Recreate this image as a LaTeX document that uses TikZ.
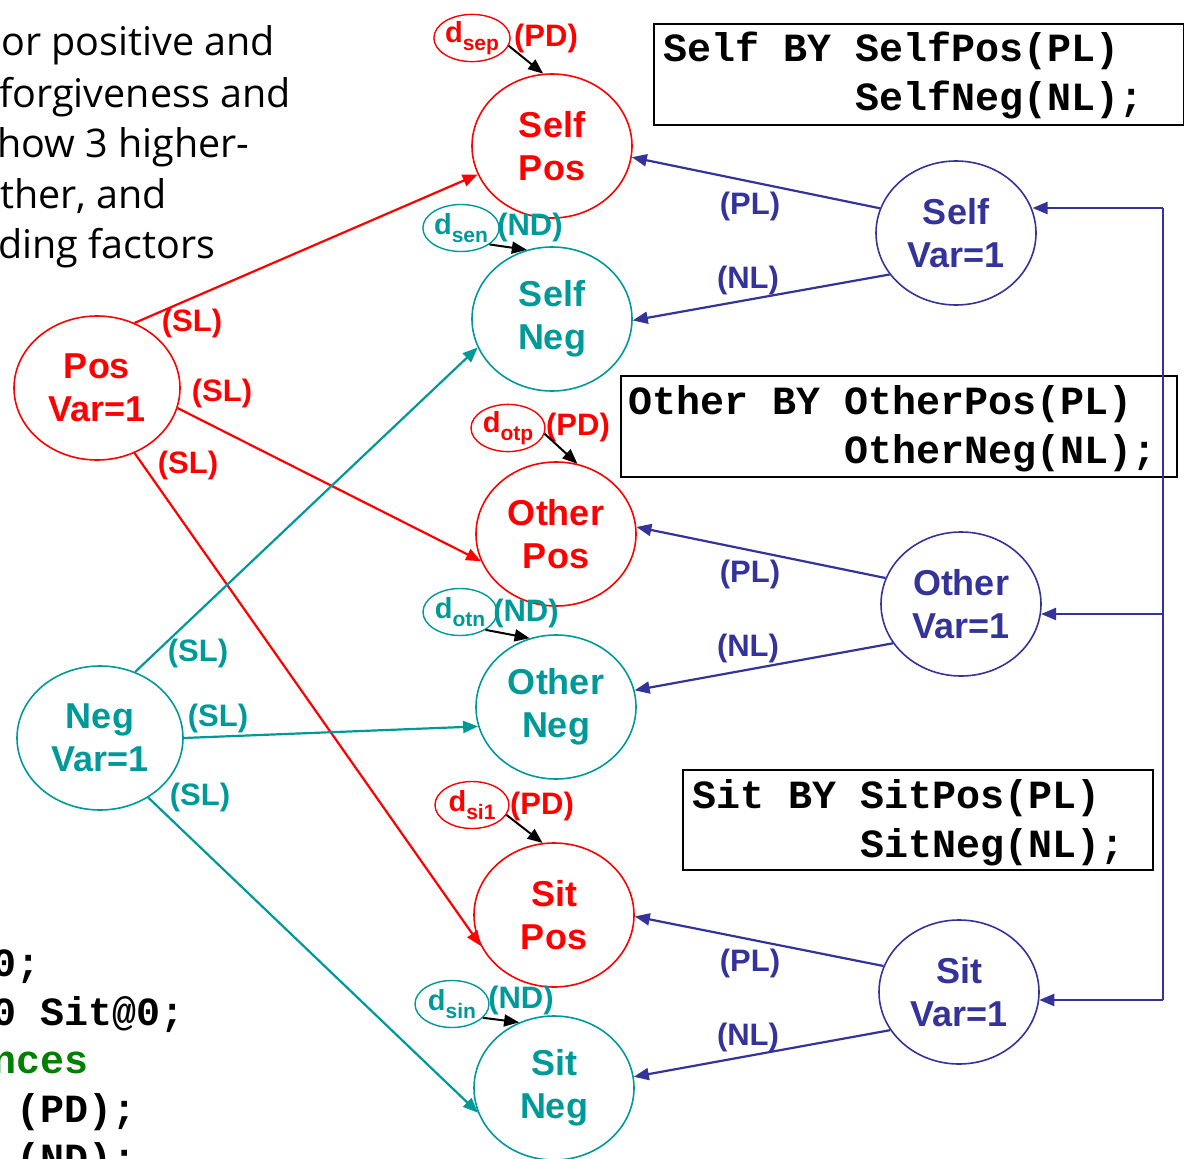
\documentclass[tikz,border=0pt]{standalone}
\usepackage{fontspec}
\setmainfont{Liberation Sans}
\newfontfamily\bodyfont{Open Sans}
\newfontfamily\codefont{Liberation Mono}
\usetikzlibrary{shapes.geometric,arrows.meta}
\definecolor{cred}{RGB}{255,0,0}
\definecolor{cteal}{RGB}{0,153,153}
\definecolor{cblue}{RGB}{51,51,153}
\definecolor{cgreen}{RGB}{0,128,0}
\begin{document}
\begin{tikzpicture}[x=1pt,y=-1pt,
  bignode/.style={ellipse, draw, line width=1.6pt, minimum width=160pt, minimum height=144pt, inner sep=0pt, align=center, font=\fontsize{36}{43}\selectfont\bfseries},
  varnode/.style={bignode, minimum width=166pt},
  dnode/.style={ellipse, draw, line width=1.4pt, minimum width=74pt, minimum height=47pt, inner sep=0pt, font=\fontsize{29}{34}\selectfont\bfseries},
  lab/.style={font=\fontsize{31}{36}\selectfont\bfseries, inner sep=0pt},
  conn/.style={line width=2.2pt, -{Triangle[length=15pt,width=12pt]}},
  darr/.style={line width=2pt, black, -{Triangle[length=15pt,width=12pt]}},
  intro/.style={font=\bodyfont\fontsize{39.5}{51}\selectfont, inner sep=0pt, anchor=base west},
  code/.style={font=\codefont\bfseries\fontsize{40}{49}\selectfont, inner sep=0pt, anchor=base west},
  codebox/.style={draw, line width=1.5pt, anchor=north west, inner sep=0pt}
]
\useasboundingbox (0,0) rectangle (1184,1159);
\clip (0,0) rectangle (1184,1159);
\fill[white] (0,0) rectangle (1184,1159);

% intro text (cut at left)
\node[intro] (t1) at (1,55) {or positive and};
\node[intro] (t2) at (-1,107) {forgiveness and};
\node[intro] (t3) at (-3,157) {how 3 higher-};
\node[intro] (t4) at (0,208) {ther, and};
\node[intro] (t5) at (-2,258) {ding factors};

% code text bottom left
\node[code] (c1) at (-8,976) {0;};
\node[code] (c2) at (-8,1025) {0 Sit@0;};
\node[code, text=cgreen] (c3) at (-8,1073) {nces};
\node[code] (c4) at (-8,1122) {\hphantom{0}(PD);};
\node[code] (c5) at (-8,1171) {\hphantom{0}(ND);};

% code boxes
\node[codebox, minimum width=530pt, minimum height=101pt] (selfbox) at (653,23) {};
\node[code] (sb1) at (663,61) {Self BY SelfPos(PL)};
\node[code] (sb2) at (663,110) {\hphantom{Self BY }SelfNeg(NL);};
\node[codebox, minimum width=556pt, minimum height=101pt] (otherbox) at (620,375) {};
\node[code] (ob1) at (628,414) {Other BY OtherPos(PL)};
\node[code] (ob2) at (628,463) {\hphantom{Other BY }OtherNeg(NL);};
\node[codebox, minimum width=470pt, minimum height=100pt] (sitbox) at (682,769) {};
\node[code] (tb1) at (692,808) {Sit BY SitPos(PL)};
\node[code] (tb2) at (692,857) {\hphantom{Sit BY }SitNeg(NL);};

% factor nodes
\node[bignode, cred] (selfpos) at (552,146) {Self\\Pos};
\node[bignode, cteal] (selfneg) at (552,319) {Self\\Neg};
\node[bignode, cred] (otherpos) at (556,534) {Other\\Pos};
\node[bignode, cteal] (otherneg) at (556,707) {Other\\Neg};
\node[bignode, cred] (sitpos) at (554,915) {Sit\\Pos};
\node[bignode, cteal] (sitneg) at (554,1088) {Sit\\Neg};

\node[varnode, cred] (posvar) at (97,388) {Pos\\Var=1};
\node[varnode, cteal] (negvar) at (100,738) {Neg\\Var=1};
\node[bignode, cblue] (selfvar) at (956,233) {Self\\Var=1};
\node[bignode, cblue] (othervar) at (961,604) {Other\\Var=1};
\node[bignode, cblue] (sitvar) at (959,992) {Sit\\Var=1};

% disturbances
\node[dnode, cred] (dsep) at (472,38) {d\raisebox{-8pt}{\fontsize{21}{21}\selectfont sep}};
\node[dnode, cteal] (dsen) at (461,228) {d\raisebox{-8pt}{\fontsize{21}{21}\selectfont sen}};
\node[dnode, cred] (dotp) at (508,428) {d\raisebox{-8pt}{\fontsize{21}{21}\selectfont otp}};
\node[dnode, cteal] (dotn) at (460,612) {d\raisebox{-8pt}{\fontsize{21}{21}\selectfont otn}};
\node[dnode, cred] (dsi1) at (472,805) {d\raisebox{-8pt}{\fontsize{21}{21}\selectfont si1}};
\node[dnode, cteal] (dsin) at (452,1004) {d\raisebox{-8pt}{\fontsize{21}{21}\selectfont sin}};

\node[lab, cred] (pd1) at (546,38) {(PD)};
\node[lab, cteal] (nd1) at (530,227) {(ND)};
\node[lab, cred] (pd2) at (578,427) {(PD)};
\node[lab, cteal] (nd2) at (526,613) {(ND)};
\node[lab, cred] (pd3) at (542,806) {(PD)};
\node[lab, cteal] (nd3) at (521,1000) {(ND)};

\draw[darr] (dsep.-12) -- (selfpos.97);
\draw[darr] (dsen.-30) -- (selfneg.110);
\draw[darr] (dotp.-9) -- (otherpos.73);
\draw[darr] (dotn.-35) -- (otherneg.111);
\draw[darr] (dsi1.-16) -- (sitpos.99);
\draw[darr] (dsin.-24) -- (sitneg.118);

% structural loadings
\draw[conn, cred] (posvar.60) -- (selfpos.201);
\draw[conn, cred] (posvar.-14) -- (otherpos.200);
\draw[conn, cred] (posvar.-60) -- (sitpos.203);
\draw[conn, cteal] (negvar.62) -- (selfneg.201);
\draw[conn, cteal] (negvar.0) -- (otherneg.194);
\draw[conn, cteal] (negvar.-51) -- (sitneg.198);

\node[lab, cred] (sl1) at (192,323) {(SL)};
\node[lab, cred] (sl2) at (222,393) {(SL)};
\node[lab, cred] (sl3) at (188,465) {(SL)};
\node[lab, cteal] (sl4) at (198,653) {(SL)};
\node[lab, cteal] (sl5) at (218,718) {(SL)};
\node[lab, cteal] (sl6) at (200,797) {(SL)};

\draw[conn, cblue] (selfvar.162) -- (selfpos.-8);
\draw[conn, cblue] (selfvar.212) -- (selfneg.-1);
\draw[conn, cblue] (othervar.161) -- (otherpos.5);
\draw[conn, cblue] (othervar.210) -- (otherneg.12);
\draw[conn, cblue] (sitvar.161) -- (sitpos.-1);
\draw[conn, cblue] (sitvar.209) -- (sitneg.8);

\node[lab, cblue] (pl1) at (750,206) {(PL)};
\node[lab, cblue] (nl1) at (748,280) {(NL)};
\node[lab, cblue] (pl2) at (750,574) {(PL)};
\node[lab, cblue] (nl2) at (748,648) {(NL)};
\node[lab, cblue] (pl3) at (750,963) {(PL)};
\node[lab, cblue] (nl3) at (748,1037) {(NL)};

% right feed line
\coordinate (r1) at (1163,208);
\coordinate (r2) at (1163,614);
\coordinate (r3) at (1163,1000);
\draw[cblue, line width=2.2pt] (r1) -- (r3);
\draw[conn, cblue] (r1) -- (selfvar.17 |- r1);
\draw[conn, cblue] (r2) -- (othervar.-7 |- r2);
\draw[conn, cblue] (r3) -- (sitvar.-6 |- r3);
\end{tikzpicture}
\end{document}
